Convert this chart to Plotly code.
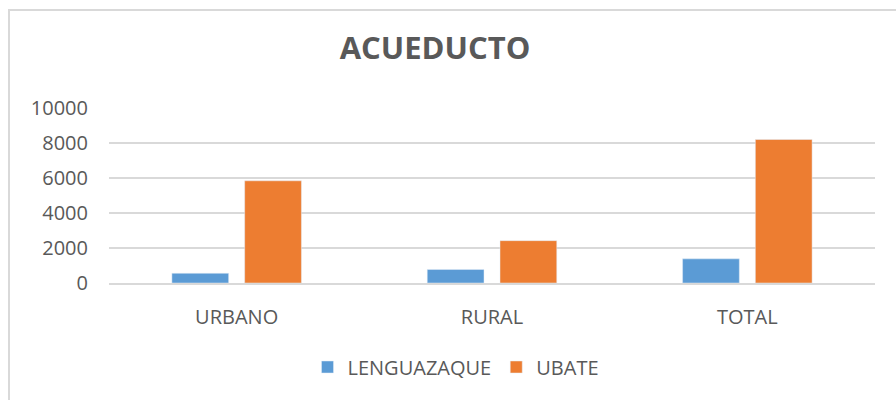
import plotly.graph_objects as go

categories = ["URBANO", "RURAL", "TOTAL"]
lenguazaque = [555, 770, 1380]
ubate = [5840, 2420, 8200]
tick_vals = [0, 2000, 4000, 6000, 8000, 10000]
tick_text = ["0", "2000", "4000", "6000", "8000", "10000"]

FONT = "Open Sans, Liberation Sans, sans-serif"
TXT = "#595959"

fig = go.Figure()
fig.add_trace(go.Bar(name="LENGUAZAQUE", x=categories, y=lenguazaque, marker_color="#5b9bd5"))
fig.add_trace(go.Bar(name="UBATE", x=categories, y=ubate, marker_color="#ed7d31"))

L, R, T, B = 109, 21, 108, 117
W, H = 896, 400
pw = W - L - R
ph = H - T - B

def px_x(x):
    return (x - L) / pw

def px_y(y):
    return (H - B - y) / ph

fig.update_layout(
    width=W, height=H,
    margin=dict(l=L, r=R, t=T, b=B, autoexpand=False),
    paper_bgcolor="white", plot_bgcolor="white",
    barmode="group", bargap=0.43, bargroupgap=0.22,
    font=dict(family=FONT, color=TXT, size=20),
    title=dict(text="<b>ACUEDUCTO</b>", x=435 / W, xanchor="center",
               y=1 - 48 / H, yanchor="middle",
               font=dict(family=FONT, size=31, color=TXT)),
    legend=dict(orientation="h", x=px_x(456), xanchor="center",
                y=px_y(367), yanchor="middle",
                font=dict(family=FONT, size=20, color=TXT),
                itemwidth=30, traceorder="normal"),
    xaxis=dict(showline=True, linecolor="#d9d9d9", linewidth=2,
               tickfont=dict(family=FONT, size=20, color=TXT),
               ticks="", showgrid=False, ticklabelstandoff=15),
    yaxis=dict(range=[0, 10000], tickvals=tick_vals, ticktext=tick_text,
               showgrid=True, gridcolor="#d9d9d9", gridwidth=2,
               zeroline=False, showline=False, ticks="",
               ticklabelstandoff=20,
               tickfont=dict(family=FONT, size=20, color=TXT)),
    shapes=[
        dict(type="line", xref="paper", yref="paper",
             x0=px_x(9), x1=px_x(9), y0=px_y(10), y1=px_y(405),
             line=dict(color="#d9d9d9", width=2)),
        dict(type="line", xref="paper", yref="paper",
             x0=px_x(8), x1=px_x(900), y0=px_y(10), y1=px_y(10),
             line=dict(color="#d9d9d9", width=2)),
    ],
)

fig.write_html("out.html", config={"displayModeBar": False},
               post_script="document.body.style.margin='0';")
